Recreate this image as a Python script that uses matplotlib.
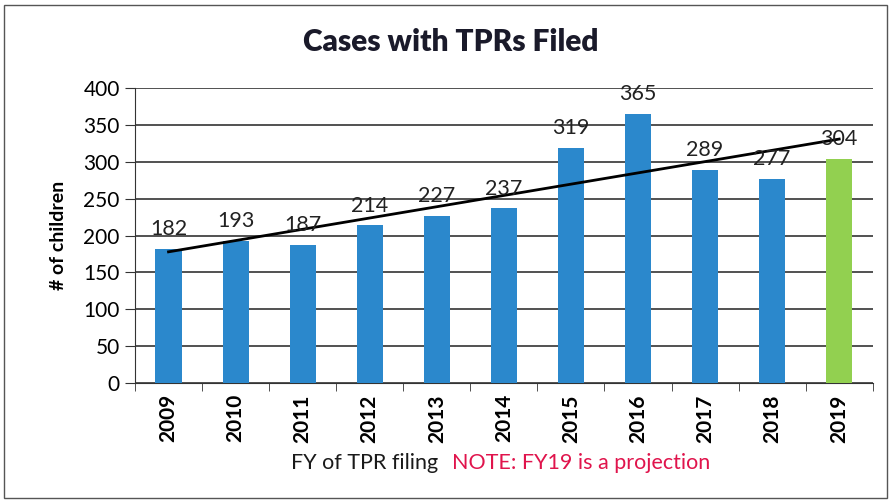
import matplotlib.pyplot as plt
import matplotlib.patches as mpatches
import numpy as np

plt.rcParams['font.family'] = ['Lato', 'DejaVu Sans']

years = ['2009', '2010', '2011', '2012', '2013', '2014', '2015', '2016', '2017', '2018', '2019']
cases = [182, 193, 187, 214, 227, 237, 319, 365, 289, 277, 304]
bar_colors = ['#2b88cc'] * 10 + ['#92d050']
# trend line as drawn in the source, value at the first and last year
trend = [178, 331]

fig = plt.figure(figsize=(8.91, 5.04), dpi=100)
ax = fig.add_axes([0.1515, 0.240, 0.828, 0.585])

x = np.arange(len(years))
bars = ax.bar(x, cases, width=0.39, color=bar_colors, zorder=3)
for xi, v in zip(x, cases):
    ax.annotate(str(v), (xi, v), xytext=(0, 7), textcoords='offset points',
                ha='center', va='bottom', fontsize=15.5, color='#222222', zorder=5)

ax.plot([x[0], x[-1]], trend, color='black', lw=2, zorder=4)

ax.set_xlim(-0.5, len(years) - 0.5)
ax.set_ylim(0, 400)
ax.set_yticks(np.arange(0, 401, 50))
ax.set_xticks(x)
ax.set_xticklabels(years, rotation=90, fontsize=15, fontweight='bold')
ax.set_xticks(np.arange(-0.5, len(years), 1), minor=True)
ax.tick_params(axis='x', which='major', length=0, pad=8)
ax.tick_params(axis='x', which='minor', length=6, direction='out', color='#333333')
ax.tick_params(axis='y', length=7, labelsize=15, color='#333333', pad=4)
ax.grid(axis='y', color='#333333', lw=1.2, zorder=0)

for s in ['top', 'right']:
    ax.spines[s].set_visible(False)
ax.spines['left'].set_color('#333333')
ax.spines['bottom'].set_color('#333333')

ax.set_ylabel('# of children', fontsize=14, fontweight='bold', labelpad=12)
fig.text(0.506, 0.917, 'Cases with TPRs Filed', ha='center', va='center',
         fontsize=21.5, fontweight='heavy', color='#1a1a2a')

fig.text(0.4916, 0.081, 'FY of TPR filing', ha='right', va='center', fontsize=15.5, color='#1a1a1a')
fig.text(0.507, 0.081, 'NOTE: FY19 is a projection', ha='left', va='center', fontsize=15.5, color='#e0144c')

fig.patches.append(mpatches.Rectangle((0.005, 0.012), 0.99, 0.978, transform=fig.transFigure,
                                      fill=False, edgecolor='#555555', lw=1))

fig.savefig('out.png', dpi=100)
